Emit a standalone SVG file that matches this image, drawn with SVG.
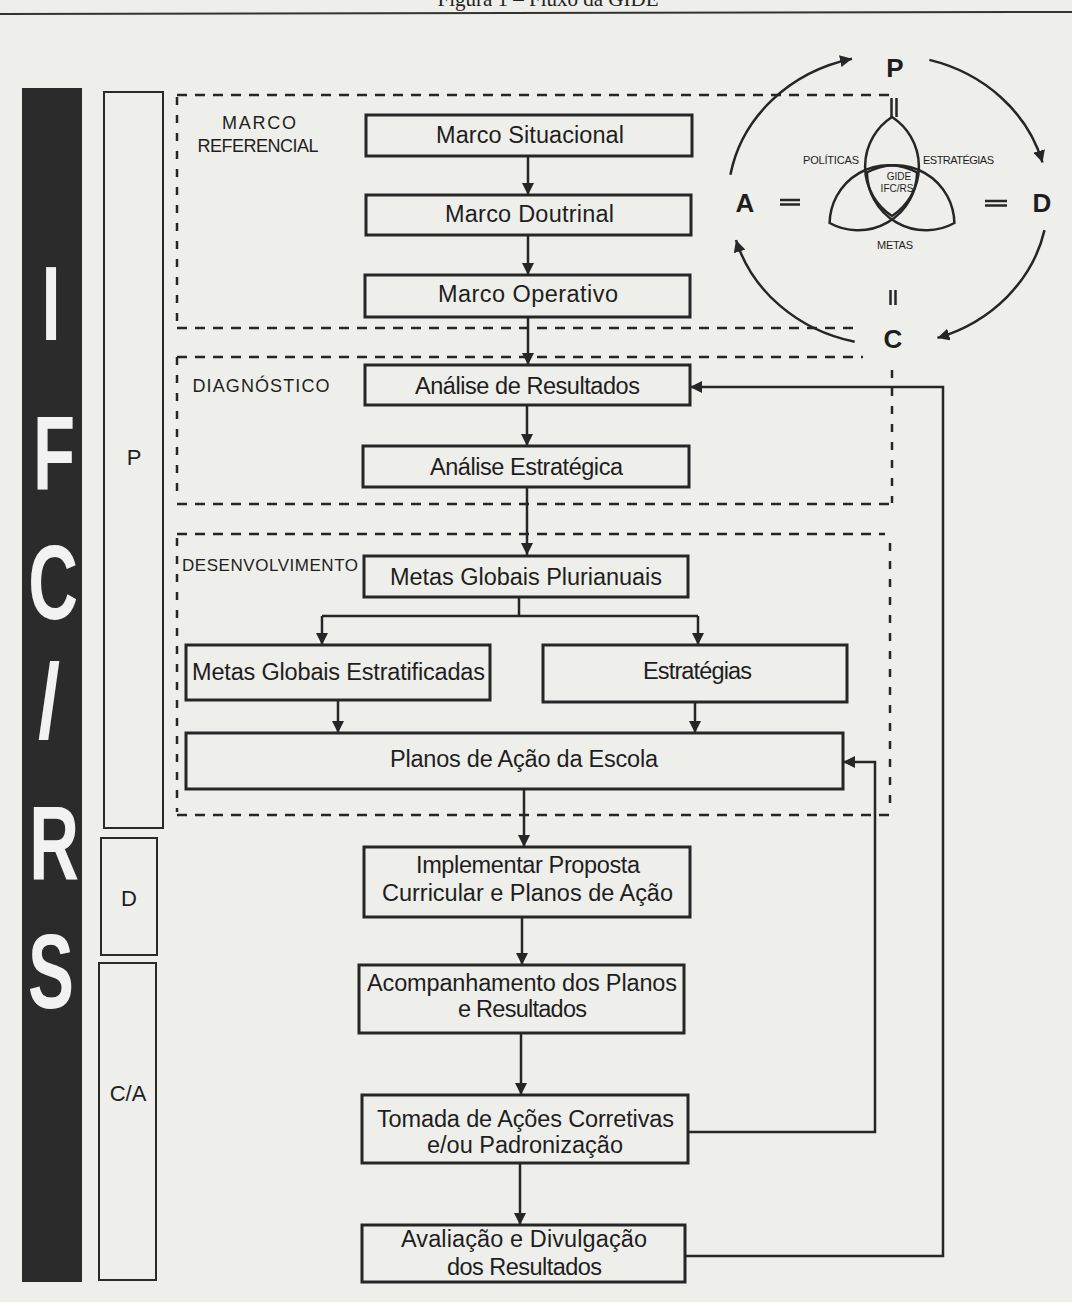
<svg xmlns="http://www.w3.org/2000/svg" width="1072" height="1302" viewBox="0 0 1072 1302">
<defs>
<style>
.bg{fill:#eeeeea}
.box{fill:none;stroke:#262626;stroke-width:3}
.side{fill:none;stroke:#2a2a2a;stroke-width:2}
.t{font-family:"Liberation Sans",Arial,sans-serif;font-size:23.5px;fill:#1e1e1e;text-anchor:middle}
.lbl{font-family:"Liberation Sans",Arial,sans-serif;font-size:18px;fill:#1e1e1e;text-anchor:middle}
.big{font-family:"Liberation Sans",Arial,sans-serif;font-size:106px;font-weight:bold;fill:#f2f2f2;text-anchor:middle}
.pdca{font-family:"Liberation Sans",Arial,sans-serif;font-size:26px;font-weight:bold;fill:#1e1e1e;text-anchor:middle}
.sm{font-family:"Liberation Sans",Arial,sans-serif;font-size:11px;fill:#1e1e1e;text-anchor:middle}
.dash{fill:none;stroke:#262626;stroke-width:2.5;stroke-dasharray:10 8}
.dashv{fill:none;stroke:#262626;stroke-width:2.5;stroke-dasharray:8 10}
.conn{fill:none;stroke:#262626;stroke-width:2.5}
.eq{stroke:#262626;stroke-width:2.5}
</style>
<marker id="ah" viewBox="0 0 12 12" refX="12" refY="6" markerWidth="12" markerHeight="12" markerUnits="userSpaceOnUse" orient="auto">
<path d="M0,0 L12,6 L0,12 Z" fill="#262626"/>
</marker>
</defs>
<rect class="bg" x="0" y="0" width="1072" height="1302"/>
<g id="caption">
<text x="548" y="6" style="font-family:'Liberation Serif','Times New Roman',serif;font-size:21px;fill:#222;text-anchor:middle">Figura 1 – Fluxo da GIDE</text>
<line x1="0" y1="14" x2="1072" y2="12" stroke="#333" stroke-width="2"/>
</g>
<g id="ifcrs-bar">
<rect x="22" y="88" width="60" height="1194" fill="#2b2b2b"/>
<text class="big" transform="translate(51,340) scale(0.65,1)">I</text>
<text class="big" transform="translate(54,490) scale(0.65,1)">F</text>
<text class="big" transform="translate(53,619) scale(0.65,1)">C</text>
<text class="big" transform="translate(49,738) scale(0.75,1)">/</text>
<text class="big" transform="translate(54,880) scale(0.65,1)">R</text>
<text class="big" transform="translate(51,1008) scale(0.65,1)">S</text>
</g>
<g id="phase-p"><rect class="side" x="104" y="92" width="59" height="736"/><text class="lbl" x="134" y="465" style="font-size:22px">P</text></g>
<g id="phase-d"><rect class="side" x="101" y="838" width="56" height="117"/><text class="lbl" x="129" y="906" style="font-size:22px">D</text></g>
<g id="phase-ca"><rect class="side" x="99" y="963" width="57" height="317"/><text class="lbl" x="128" y="1101" style="font-size:22px">C/A</text></g>
<g id="region-marco">
<path class="dash" d="M177,95 H890"/>
<path class="dashv" d="M177,97 V322"/>
<path class="dash" d="M177,328 H858"/>
<text class="lbl" x="259" y="129" textLength="74">MARCO</text>
<text class="lbl" x="258" y="152" textLength="121">REFERENCIAL</text>
</g>
<g id="region-diagnostico">
<path class="dash" d="M177,357 H863"/>
<path class="dashv" d="M177,357 V492"/>
<path class="dashv" d="M892,370 V503"/>
<path class="dash" d="M177,504 H892"/>
<text class="lbl" x="261" y="392" textLength="137">DIAGNÓSTICO</text>
</g>
<g id="region-desenvolvimento">
<path class="dash" d="M177,534 H885"/>
<path class="dashv" d="M177,538 V812"/>
<path class="dashv" d="M890,543 V810"/>
<path class="dash" d="M177,815 H890"/>
<text class="lbl" x="270" y="571" textLength="176" style="font-size:17px">DESENVOLVIMENTO</text>
</g>
<g id="connectors">
<path class="conn" d="M528,156 V195" marker-end="url(#ah)"/>
<path class="conn" d="M528,235 V275" marker-end="url(#ah)"/>
<path class="conn" d="M528,317 V365" marker-end="url(#ah)"/>
<path class="conn" d="M527,405 V446" marker-end="url(#ah)"/>
<path class="conn" d="M527,487 V555" marker-end="url(#ah)"/>
<path class="conn" d="M519,597 V616"/>
<path class="conn" d="M322,616 H698"/>
<path class="conn" d="M322,616 V645" marker-end="url(#ah)"/>
<path class="conn" d="M698,616 V645" marker-end="url(#ah)"/>
<path class="conn" d="M338,700 V733" marker-end="url(#ah)"/>
<path class="conn" d="M695,702 V733" marker-end="url(#ah)"/>
<path class="conn" d="M524,789 V847" marker-end="url(#ah)"/>
<path class="conn" d="M522,917 V965" marker-end="url(#ah)"/>
<path class="conn" d="M521,1033 V1095" marker-end="url(#ah)"/>
<path class="conn" d="M520,1163 V1225" marker-end="url(#ah)"/>
<path class="conn" d="M688,1132 H875 V762 H843" marker-end="url(#ah)"/>
<path class="conn" d="M685,1256 H943 V387 H690" marker-end="url(#ah)"/>
<path class="conn" d="M730.4,174.8 A160,145 0 0 1 852,58.7" marker-end="url(#ah)"/>
<path class="conn" d="M929.4,59.9 A160,145 0 0 1 1042.5,162.5" marker-end="url(#ah)"/>
<path class="conn" d="M1044.5,230.1 A160,145 0 0 1 937.4,337.9" marker-end="url(#ah)"/>
<path class="conn" d="M854.7,341.8 A160,145 0 0 1 736,240" marker-end="url(#ah)"/>
</g>
<g id="marco-situacional"><rect class="box" x="366" y="115" width="326" height="41"/><text class="t" x="530" y="143" textLength="188">Marco Situacional</text></g>
<g id="marco-doutrinal"><rect class="box" x="366" y="195" width="325" height="40"/><text class="t" x="529.5" y="222" textLength="169">Marco Doutrinal</text></g>
<g id="marco-operativo"><rect class="box" x="365" y="275" width="325" height="42"/><text class="t" x="528" y="302" textLength="180">Marco Operativo</text></g>
<g id="analise-resultados"><rect class="box" x="365" y="365" width="325" height="40"/><text class="t" x="527.5" y="394" textLength="225">Análise de Resultados</text></g>
<g id="analise-estrategica"><rect class="box" x="363" y="446" width="326" height="41"/><text class="t" x="526.5" y="475" textLength="193">Análise Estratégica</text></g>
<g id="metas-plurianuais"><rect class="box" x="364" y="556" width="324" height="41"/><text class="t" x="526" y="585" textLength="272">Metas Globais Plurianuais</text></g>
<g id="metas-estratificadas"><rect class="box" x="186" y="645" width="304" height="55"/><text class="t" x="338.5" y="680" textLength="293">Metas Globais Estratificadas</text></g>
<g id="estrategias"><rect class="box" x="543" y="645" width="304" height="57"/><text class="t" x="697.5" y="679" textLength="109">Estratégias</text></g>
<g id="planos-acao"><rect class="box" x="186" y="733" width="657" height="56"/><text class="t" x="524" y="767" textLength="268">Planos de Ação da Escola</text></g>
<g id="implementar"><rect class="box" x="364" y="847" width="326" height="70"/><text class="t" x="528" y="873" textLength="224">Implementar Proposta</text><text class="t" x="527.5" y="901" textLength="291">Curricular e Planos de Ação</text></g>
<g id="acompanhamento"><rect class="box" x="359" y="965" width="325" height="68"/><text class="t" x="522" y="991" textLength="310">Acompanhamento dos Planos</text><text class="t" x="522.5" y="1017" textLength="129">e Resultados</text></g>
<g id="tomada"><rect class="box" x="362" y="1095" width="326" height="68"/><text class="t" x="525.5" y="1127" textLength="297">Tomada de Ações Corretivas</text><text class="t" x="525" y="1153" textLength="196">e/ou Padronização</text></g>
<g id="avaliacao"><rect class="box" x="362" y="1225" width="323" height="57"/><text class="t" x="524" y="1247" textLength="246">Avaliação e Divulgação</text><text class="t" x="524.5" y="1275" textLength="155">dos Resultados</text></g>
<g id="pdca-cycle">
<text class="pdca" x="895" y="77">P</text>
<text class="pdca" x="745" y="212">A</text>
<text class="pdca" x="1042" y="212">D</text>
<text class="pdca" x="893" y="348">C</text>
<line class="eq" x1="891.5" y1="98" x2="891.5" y2="117"/><line class="eq" x1="896.5" y1="98" x2="896.5" y2="117"/>
<line class="eq" x1="890.5" y1="290" x2="890.5" y2="305"/><line class="eq" x1="895.5" y1="290" x2="895.5" y2="305"/>
<line class="eq" x1="780" y1="200" x2="800" y2="200"/><line class="eq" x1="780" y1="204.5" x2="800" y2="204.5"/>
<line class="eq" x1="985" y1="201" x2="1007" y2="201"/><line class="eq" x1="985" y1="205.5" x2="1007" y2="205.5"/>
</g>
<g id="gide-lenses" fill="none" stroke="#262626" stroke-width="2.5">
<path d="M892,117 A59,59 0 0 1 892,216 A59,59 0 0 1 892,117 Z"/>
<path d="M829.6,223 A59,59 0 0 1 917.1,172.5 A59,59 0 0 1 829.6,223 Z"/>
<path d="M954.4,223 A59,59 0 0 1 866.9,172.5 A59,59 0 0 1 954.4,223 Z"/>
</g>
<g id="gide-labels">
<text class="sm" x="831" y="164" textLength="56">POLÍTICAS</text>
<text class="sm" x="958.5" y="164" textLength="71">ESTRATÉGIAS</text>
<text class="sm" x="899" y="180" style="font-size:10px">GIDE</text>
<text class="sm" x="897" y="192" style="font-size:10px">IFC/RS</text>
<text class="sm" x="895" y="249" textLength="36">METAS</text>
</g>
</svg>
